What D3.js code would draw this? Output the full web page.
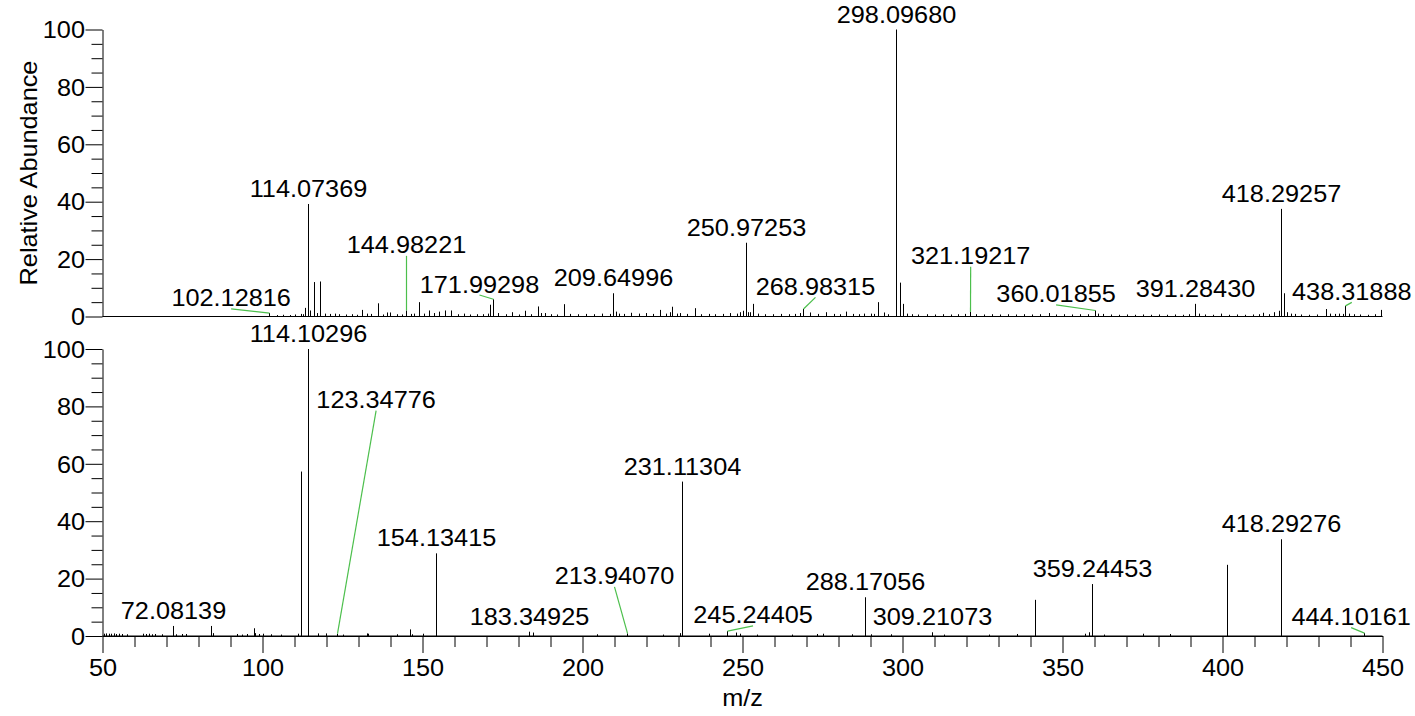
<!DOCTYPE html>
<html><head><meta charset="utf-8">
<script src="https://cdn.jsdelivr.net/npm/d3@7"></script>
<style>
body{margin:0;background:#fff}
svg{display:block}
text{font-family:"Liberation Sans",Arial,Helvetica,sans-serif;font-size:23px;fill:#000}
</style>
</head><body>
<svg id="c" width="1415" height="716"></svg>
<script>
// ---------- DATA ----------
const xTickValues = [50,100,150,200,250,300,350,400,450];
const yTickValues = [0,20,40,60,80,100];
const xTitle = "m/z";
const yTitle = "Relative Abundance";

// top spectrum (m/z, relative abundance)
const topMz = [102.12816,104.5,106.5,108.5,110.3,111.9,112.7,113.3,114.07369,114.9,116.06,117.0,118.05,119.5,121.0,122.5,124.0,126.0,128.0,129.5,
131.1,132.5,134.0,136.1,137.5,138.9,139.9,142.0,143.5,144.98221,146.5,147.2,149.0,150.5,152.1,153.5,155.1,156.9,159.0,161.0,
163.0,165.0,167.0,169.0,170.6,171.2,171.99298,173.5,176.0,178.1,180.0,182.1,184.0,186.0,187.1,188.3,190.0,192.0,194.1,196.0,
198.5,201.0,203.5,206.0,208.5,209.64996,210.4,211.5,213.0,215.1,217.5,219.7,222.0,224.3,226.0,227.2,228.0,229.5,230.5,232.5,
235.0,237.0,239.5,241.5,244.0,246.1,248.2,249.3,250.1,250.97253,251.7,252.4,253.2,255.0,257.0,259.5,262.0,264.5,266.5,268.0,
268.98315,271.0,273.5,276.1,278.5,280.5,282.3,284.5,286.5,288.1,290.0,291.0,292.2,294.1,295.5,298.0968,299.3,300.1,301.5,303.0,
305.0,307.5,310.0,312.5,315.0,317.5,319.5,321.19217,323.0,325.5,328.0,330.5,333.0,335.5,338.0,340.5,343.0,345.9,348.0,350.5,
353.0,355.5,358.0,360.01855,361.0,362.5,365.0,367.5,370.0,372.5,375.0,377.5,380.0,382.5,385.0,387.5,389.5,391.2843,392.8,394.5,
397.0,399.5,402.0,404.5,407.0,409.5,411.5,412.8,414.5,416.0,417.5,418.29257,419.3,420.3,421.3,422.5,424.5,427.0,429.5,432.4,
433.5,435.0,436.5,437.5,438.31888,439.5,441.0,443.0,445.5,447.5,449.6];
const topAb = [1.2,0.5,0.6,0.5,0.7,0.9,0.8,3.0,39.2,2.1,12.0,1.2,12.2,1.0,0.9,1.0,0.8,0.7,0.8,0.6,
2.3,1.0,0.9,4.6,0.7,1.4,1.4,0.8,0.7,2.1,0.9,1.0,5.0,1.0,2.1,1.2,1.7,2.1,2.1,0.8,
1.0,0.7,0.8,0.8,1.0,4.1,6.0,1.2,0.8,1.5,0.7,2.0,0.8,3.5,1.2,1.2,0.8,0.7,4.3,0.9,
0.8,0.9,0.8,1.0,0.9,8.1,1.7,1.0,0.9,1.3,1.0,1.2,0.9,2.3,1.0,1.5,3.4,1.0,1.2,0.9,
2.9,0.8,0.9,0.8,0.9,1.2,1.0,1.5,2.0,25.7,1.5,1.5,4.4,1.0,0.8,0.8,0.9,0.8,0.9,1.2,
2.6,1.4,0.9,1.5,0.9,0.8,1.7,0.9,0.8,1.0,1.0,0.9,5.0,1.4,0.8,100,11.8,4.4,1.0,0.8,
0.7,0.8,0.7,0.8,0.7,0.8,0.9,1.6,0.8,0.7,0.8,0.7,0.8,0.7,0.8,0.7,0.8,1.2,0.7,0.8,
0.7,0.8,0.8,2.1,1.0,0.9,0.7,0.6,0.7,0.6,0.7,0.6,0.7,0.6,0.7,0.6,0.8,4.4,1.0,0.7,
0.6,1.0,0.6,0.7,0.6,0.7,0.8,1.3,0.8,1.5,2.0,37.5,8.1,1.5,1.0,0.9,0.7,0.6,0.7,2.6,
1.0,0.9,1.0,0.9,3.7,1.0,0.8,0.7,0.6,0.8,2.3];

// bottom spectrum
const botMz = [50.5,51.2,52.0,52.8,53.5,54.3,55.0,56.0,57.5,62.5,63.5,64.5,65.5,66.5,68.5,72.08139,73.0,74.8,76.1,84.06,
84.5,92.0,93.5,95.0,97.2,97.8,99.0,100.3,102.6,105.8,111.0,112.1,114.10296,117.3,119.8,123.34776,125.0,132.5,133.0,142.1,
146.2,146.7,150.0,154.13415,183.34925,184.4,204.5,213.9407,225.3,230.5,231.11304,239.4,245.24405,248.0,249.2,254.5,265.5,273.4,275.0,284.2,
288.17056,290.0,296.5,309.21073,313.0,327.0,335.9,341.5,357.0,358.4,359.24453,363.0,375.3,383.7,401.5,418.29276,444.10161];
const botAb = [0.8,0.9,0.8,0.8,0.9,0.7,0.8,0.7,0.6,0.8,0.7,0.8,0.6,0.7,0.6,3.5,0.6,0.7,0.7,3.5,
1.0,0.7,0.5,0.7,2.7,1.0,0.7,0.8,0.6,0.5,0.8,57.3,100,0.9,0.9,0.8,0.5,0.9,0.8,0.6,
2.3,0.6,0.8,28.8,1.5,1.2,0.6,0.9,0.5,1.0,53.8,0.8,1.7,1.2,0.8,0.5,0.5,0.7,0.8,0.6,
13.5,0.6,0.6,1.3,0.5,0.5,0.7,12.6,0.8,1.3,18.1,0.5,0.8,0.7,24.8,33.7,1.0];

// peak annotations; a position (m/z, abundance of text baseline) is given only for labels with a leader line
const topLabelText = ["102.12816","114.07369","144.98221","171.99298","209.64996","250.97253","268.98315","298.09680","321.19217","360.01855","391.28430","418.29257","438.31888"];
const topLabelPosMz = [90.2,null,145.0,167.8,null,null,272.8,null,321.3,348.0,null,null,440.4];
const topLabelPosAb = [3.5,null,22.0,8.35,null,null,7.55,null,18.2,4.9,null,null,5.8];

const botLabelText = ["72.08139","114.10296","123.34776","154.13415","183.34925","213.94070","231.11304","245.24405","288.17056","309.21073","359.24453","418.29276","444.10161"];
const botLabelPosMz = [null,null,135.5,null,null,210.0,null,253.3,null,null,null,null,440.2];
const botLabelPosAb = [null,null,79.4,null,null,18.0,null,4.4,null,null,null,null,3.8];

// ---------- DRAW ----------
const svg = d3.select("#c");
const SX = 1.1;
const x = d3.scaleLinear().domain([50,450]).range([102.5,1382.5]);
const yTop = d3.scaleLinear().domain([0,100]).range([316.5,29.5]);
const yBot = d3.scaleLinear().domain([0,100]).range([636,349]);

function text(sel, px, py, s, anchor, rotate){
  return sel.append("text")
    .attr("transform", `translate(${px},${py})${rotate?" rotate(-90)":""} scale(${SX},1)`)
    .attr("text-anchor", anchor).text(s);
}

function yAxes(y){
  const minor = d3.range(5,100,5).filter(v => v % 20 !== 0);
  svg.append("g").attr("transform", `translate(${x(50)},0)`)
    .call(d3.axisLeft(y).tickValues(minor).tickSize(11).tickSizeOuter(0).tickFormat(""))
    .call(g => g.select(".domain").remove());
  const ga = svg.append("g").attr("transform", `translate(${x(50)},0)`)
    .call(d3.axisLeft(y).tickValues(yTickValues).tickSize(17).tickSizeOuter(0).tickFormat(d3.format("d")));
  ga.attr("font-size", null).attr("font-family", null);
  ga.selectAll(".tick text").attr("x", null).attr("dy", null)
    .attr("transform", `translate(-17.5,8.2) scale(${SX},1)`);
}

function drawPanel(mz, ab, y, labText, labMz, labAb){
  // baseline
  svg.append("line").attr("x1", x(50)).attr("x2", x(450)).attr("y1", y(0)).attr("y2", y(0))
    .attr("stroke", "#000").attr("stroke-width", 1);
  // peaks
  svg.append("g").selectAll("line").data(d3.range(mz.length)).join("line")
    .attr("x1", i => Math.round(x(mz[i])) + 0.5).attr("x2", i => Math.round(x(mz[i])) + 0.5)
    .attr("y1", y(0)).attr("y2", i => y(ab[i]))
    .attr("stroke", "#000").attr("stroke-width", 1);
  const nearest = m => { let b = 0; mz.forEach((v,i) => { if (Math.abs(v-m) < Math.abs(mz[b]-m)) b = i; }); return b; };
  const lg = svg.append("g");
  labText.forEach((t,i) => {
    const m = parseFloat(t);
    const k = nearest(m);
    const px = Math.round(x(mz[k])) + 0.5, py = y(ab[k]);
    if (labMz[i] == null){
      text(lg, px, py - 7, t, "middle");
    } else {
      const lx = x(labMz[i]), ly = y(labAb[i]);
      lg.append("line").attr("x1", lx).attr("y1", ly + 2.5).attr("x2", px).attr("y2", py)
        .attr("stroke", "#4cbf4c").attr("stroke-width", 1.2);
      text(lg, lx, ly, t, "middle");
    }
  });
}

drawPanel(topMz, topAb, yTop, topLabelText, topLabelPosMz, topLabelPosAb);
drawPanel(botMz, botAb, yBot, botLabelText, botLabelPosMz, botLabelPosAb);

// y axes
yAxes(yTop);
yAxes(yBot);

// x axis (bottom panel)
svg.append("g").attr("transform", `translate(0,${yBot(0)})`)
  .call(d3.axisBottom(x).tickValues(d3.range(60,450,10).filter(v => v % 50 !== 0)).tickSize(11).tickSizeOuter(0).tickFormat(""))
  .call(g => g.select(".domain").remove());
const gx = svg.append("g").attr("transform", `translate(0,${yBot(0)})`)
  .call(d3.axisBottom(x).tickValues(xTickValues).tickSize(17).tickSizeOuter(0).tickFormat(d3.format("d")));
gx.attr("font-size", null).attr("font-family", null);
gx.selectAll(".tick text").attr("y", null).attr("dy", null)
  .attr("transform", `translate(0,40) scale(${SX},1)`);

// titles
text(svg, (x(50)+x(450))/2, 706, xTitle, "middle");
text(svg, 36.5, (yTop(0)+yTop(100))/2, yTitle, "middle", true);
</script>
</body></html>
